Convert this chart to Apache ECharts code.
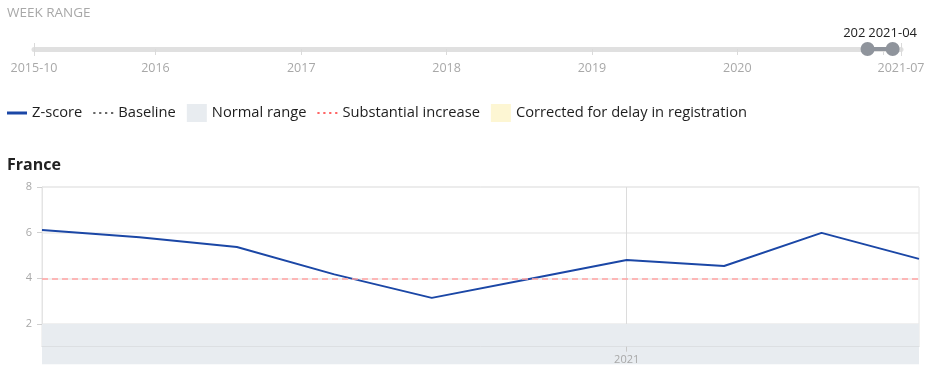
<!DOCTYPE html>
<html><head><meta charset="utf-8">
<script src="https://cdn.jsdelivr.net/npm/echarts@6/dist/echarts.min.js"></script>
<style>html,body{margin:0;padding:0;background:#fff}#c{width:932px;height:380px}</style>
</head><body><div id="c"></div>
<script>
// ---- data ----
const weeks = ['2020-48','2020-49','2020-50','2020-51','2020-52','2020-53','2021-01','2021-02','2021-03','2021-04'];
const zScore = [6.11, 5.80, 5.37, 4.17, 3.14, 3.97, 4.80, 4.54, 5.99, 4.85];
const substantialIncrease = 4;
const normalRange = [-2, 2];
const yTickValues = [2, 4, 6, 8];
const yMin = 1, yMax = 8;
const xLabelWeek = '2021-01', xLabelText = '2021';
const countryName = 'France';
const sliderStart = '2015-10', sliderEnd = '2021-07';
const sliderYears = [2016, 2017, 2018, 2019, 2020, 2021];
const sliderLabelYears = [2016, 2017, 2018, 2019, 2020];
const selectedRange = ['2020-48', '2021-04'];
const legendNames = ['Z-score', 'Baseline', 'Normal range', 'Substantial increase', 'Corrected for delay in registration'];

// ---- helpers ----
const DAY = 864e5;
function isoWeekMonday(s) {
  const [y, w] = s.split('-').map(Number);
  const jan4 = Date.UTC(y, 0, 4);
  const day = (new Date(jan4).getUTCDay() + 6) % 7;
  return (jan4 - day * DAY + (w - 1) * 7 * DAY) / DAY;   // in days
}
const yearStart = y => Date.UTC(y, 0, 1) / DAY;
const sStart = isoWeekMonday(sliderStart), sEnd = isoWeekMonday(sliderEnd);
const sliderLabelMap = {};
sliderLabelMap[sStart] = sliderStart; sliderLabelMap[sEnd] = sliderEnd;
sliderLabelYears.forEach(y => sliderLabelMap[yearStart(y)] = String(y));

const FONT = 'Open Sans';
const ICON_SOLID = 'path://M0,0h20v3h-20z';
const ICON_DOTS = 'path://M0,0h2v2h-2zM5.3,0h2v2h-2zM10.6,0h2v2h-2zM16,0h2v2h-2z';
const chart = echarts.init(document.getElementById('c'));
const isLabelIdx = (i) => weeks[i] === xLabelWeek;

chart.setOption({
  animation: false,
  textStyle: { fontFamily: FONT },
  title: [
    { text: 'WEEK RANGE', left: 7, top: 6, padding: 0, textStyle: { fontFamily: FONT, fontSize: 13.5, fontWeight: 'normal', color: '#a8a8a8' } },
    { text: countryName, left: 7, top: 157, padding: 0, textStyle: { fontFamily: FONT, fontSize: 16, fontWeight: 'bold', color: '#222' } }
  ],
  legend: {
    left: 7, top: 104, padding: 0, itemWidth: 20, itemHeight: 18, itemGap: 11,
    textStyle: { fontFamily: FONT, fontSize: 14.7, color: '#1e1e1e' },
    data: [
      { name: legendNames[0], icon: ICON_SOLID },
      { name: legendNames[1], icon: ICON_DOTS },
      { name: legendNames[2], icon: 'rect' },
      { name: legendNames[3], icon: ICON_DOTS },
      { name: legendNames[4], icon: 'rect' }
    ]
  },
  grid: [
    { left: 42, right: 13, top: 187, bottom: 33.3, show: true, borderColor: '#e4e4e4', borderWidth: 1 },
    { left: 42, right: 13, top: 346.7, height: 17.6 },
    { left: 34, right: 31, top: 43, height: 13 }
  ],
  xAxis: [
    { gridIndex: 0, type: 'category', data: weeks, boundaryGap: false, z: 0, position: 'top',
      axisLine: { show: false }, axisTick: { show: false }, axisLabel: { show: false },
      splitLine: { show: true, interval: isLabelIdx, lineStyle: { color: '#dcdcdc', width: 1 } } },
    { gridIndex: 0, type: 'category', data: weeks, boundaryGap: false, z: 6, position: 'bottom',
      axisLine: { show: true, lineStyle: { color: '#dcdfe2', width: 1 } },
      axisTick: { show: true, interval: isLabelIdx, length: 5, lineStyle: { color: '#c8c8c8' } },
      axisLabel: { show: true, interval: isLabelIdx, margin: 8, fontSize: 11, color: '#a8a8a8', fontFamily: FONT,
        formatter: v => v === xLabelWeek ? xLabelText : '' },
      splitLine: { show: false } },
    { gridIndex: 1, type: 'value', min: 0, max: 1, show: false },
    { gridIndex: 2, type: 'value', min: sStart, max: sEnd,
      axisLine: { show: true, onZero: true, lineStyle: { color: '#e0e0e0', width: 5 } },
      axisTick: { show: true, customValues: sliderYears.map(yearStart), length: 6, lineStyle: { color: '#dadada' } },
      axisLabel: { show: true, customValues: [sStart, ...sliderLabelYears.map(yearStart), sEnd], margin: 6,
        fontSize: 12.5, color: '#a8a8a8', fontFamily: FONT, formatter: v => sliderLabelMap[v] || '' },
      splitLine: { show: false } }
  ],
  yAxis: [
    { gridIndex: 0, type: 'value', min: yMin, max: yMax,
      axisLine: { show: true, lineStyle: { color: '#e4e4e4' } },
      axisTick: { show: true, customValues: yTickValues, length: 5, lineStyle: { color: '#d0d0d0' } },
      axisLabel: { customValues: yTickValues, margin: 10, fontSize: 11, color: '#a8a8a8', fontFamily: FONT },
      splitLine: { show: true, lineStyle: { color: '#ebebeb', width: 1.5 } } },
    { gridIndex: 1, type: 'value', min: 0, max: 1, show: false },
    { gridIndex: 2, type: 'value', min: -7, max: 6, show: false }
  ],
  series: [
    { name: legendNames[2], type: 'line', xAxisIndex: 0, yAxisIndex: 0, data: [], color: '#e8ecf0',
      itemStyle: { color: '#e8ecf0' },
      markArea: { silent: true, itemStyle: { color: '#e8ecf0' },
        data: [[{ yAxis: normalRange[1] }, { yAxis: yMin }]] } },
    { name: 'normal-ext', type: 'line', xAxisIndex: 2, yAxisIndex: 1, data: [], z: 1,
      markArea: { silent: true, itemStyle: { color: '#e8ecf0' }, data: [[{ yAxis: 0 }, { yAxis: 1 }]] } },
    { name: legendNames[3], type: 'line', xAxisIndex: 0, yAxisIndex: 0, data: [], color: '#f66',
      itemStyle: { color: '#f66' }, lineStyle: { color: '#f66', type: 'dotted', width: 2 }, symbol: 'none',
      markLine: { silent: true, symbol: 'none', label: { show: false },
        lineStyle: { color: '#ffa3a3', type: [6, 4], width: 1.5 },
        data: [{ yAxis: substantialIncrease }] } },
    { name: legendNames[1], type: 'line', xAxisIndex: 0, yAxisIndex: 0, data: [], color: '#666',
      itemStyle: { color: '#666' }, lineStyle: { color: '#666', type: 'dotted', width: 2 }, symbol: 'none' },
    { name: legendNames[4], type: 'line', xAxisIndex: 0, yAxisIndex: 0, data: [], color: '#fdf6d3',
      itemStyle: { color: '#fdf6d3' } },
    { name: legendNames[0], type: 'line', xAxisIndex: 0, yAxisIndex: 0, data: zScore, color: '#1b47a6',
      itemStyle: { color: '#1b47a6' }, symbol: 'none', lineStyle: { color: '#1b47a6', width: 2 }, z: 4 },
    { name: 'range', type: 'line', xAxisIndex: 3, yAxisIndex: 2, z: 5,
      data: [
        { value: [isoWeekMonday(selectedRange[0]), 0], label: { formatter: selectedRange[0] } },
        { value: [isoWeekMonday(selectedRange[1]), 0], label: { formatter: selectedRange[1], backgroundColor: '#fff', padding: [0, 3, 0, 3] } }
      ],
      symbol: 'circle', symbolSize: 14, itemStyle: { color: '#8f949c' },
      lineStyle: { color: '#8f949c', width: 4 },
      label: { show: true, position: 'top', distance: 2, color: '#222', fontSize: 13, fontFamily: FONT },
      markLine: { silent: true, symbol: 'none', label: { show: false },
        lineStyle: { color: '#dadada', type: 'solid', width: 1 },
        data: [{ xAxis: sStart }, { xAxis: sEnd }] } }
  ]
});
</script></body></html>
